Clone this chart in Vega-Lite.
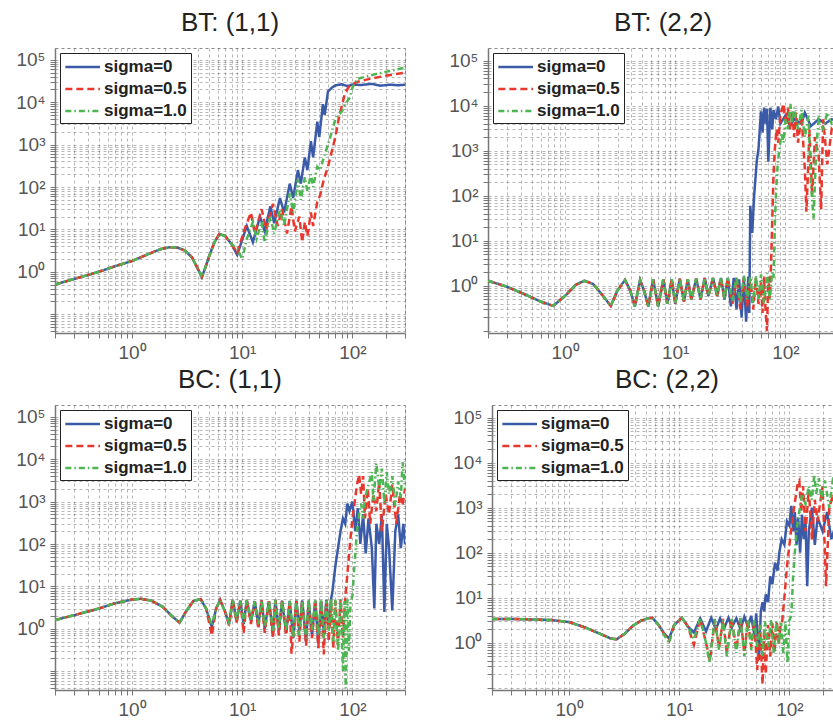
{
"$schema":"https://vega.github.io/schema/vega-lite/v6.json",
"padding":{"left":15,"top":9,"right":0,"bottom":0},
"datasets":{
"bt11":[
{"sigma":"sigma=0","x":0.2,"y":0.5},{"sigma":"sigma=0","x":0.3,"y":0.68},{"sigma":"sigma=0","x":0.5,"y":1.0},{"sigma":"sigma=0","x":0.7,"y":1.35},{"sigma":"sigma=0","x":1,"y":1.8},{"sigma":"sigma=0","x":1.4,"y":2.6},{"sigma":"sigma=0","x":1.8,"y":3.4},{"sigma":"sigma=0","x":2.2,"y":3.8},{"sigma":"sigma=0","x":2.6,"y":3.7},{"sigma":"sigma=0","x":3,"y":3.2},{"sigma":"sigma=0","x":3.5,"y":2.2},{"sigma":"sigma=0","x":4,"y":1.1},{"sigma":"sigma=0","x":4.3,"y":0.75},{"sigma":"sigma=0","x":4.6,"y":1.2},{"sigma":"sigma=0","x":5,"y":2.3},{"sigma":"sigma=0","x":5.6,"y":5},{"sigma":"sigma=0","x":6.2,"y":7.8},{"sigma":"sigma=0","x":7,"y":7},{"sigma":"sigma=0","x":8,"y":4.5},
{"sigma":"sigma=0","x":9,"y":2.5},{"sigma":"sigma=0","x":11,"y":12},{"sigma":"sigma=0","x":12.5,"y":5},{"sigma":"sigma=0","x":14.5,"y":20},{"sigma":"sigma=0","x":16,"y":9},{"sigma":"sigma=0","x":18,"y":35},{"sigma":"sigma=0","x":19.5,"y":14},{"sigma":"sigma=0","x":22,"y":55},{"sigma":"sigma=0","x":24,"y":25},{"sigma":"sigma=0","x":27,"y":120},{"sigma":"sigma=0","x":29,"y":55},{"sigma":"sigma=0","x":32,"y":250},{"sigma":"sigma=0","x":34,"y":120},{"sigma":"sigma=0","x":37,"y":500},{"sigma":"sigma=0","x":39,"y":250},{"sigma":"sigma=0","x":42,"y":1200},{"sigma":"sigma=0","x":44,"y":500},{"sigma":"sigma=0","x":48,"y":3500},{"sigma":"sigma=0","x":50,"y":1500},{"sigma":"sigma=0","x":54,"y":9000},{"sigma":"sigma=0","x":56,"y":5000},{"sigma":"sigma=0","x":60,"y":18000},{"sigma":"sigma=0","x":65,"y":22000},{"sigma":"sigma=0","x":70,"y":25000},{"sigma":"sigma=0","x":80,"y":26500},{"sigma":"sigma=0","x":90,"y":24000},{"sigma":"sigma=0","x":100,"y":26000},{"sigma":"sigma=0","x":120,"y":25500},{"sigma":"sigma=0","x":150,"y":27000},{"sigma":"sigma=0","x":180,"y":24500},{"sigma":"sigma=0","x":220,"y":26000},{"sigma":"sigma=0","x":260,"y":25000},{"sigma":"sigma=0","x":300,"y":26000},
{"sigma":"sigma=0.5","x":0.2,"y":0.5},{"sigma":"sigma=0.5","x":0.3,"y":0.68},{"sigma":"sigma=0.5","x":0.5,"y":1.0},{"sigma":"sigma=0.5","x":0.7,"y":1.35},{"sigma":"sigma=0.5","x":1,"y":1.8},{"sigma":"sigma=0.5","x":1.4,"y":2.6},{"sigma":"sigma=0.5","x":1.8,"y":3.4},{"sigma":"sigma=0.5","x":2.2,"y":3.8},{"sigma":"sigma=0.5","x":2.6,"y":3.7},{"sigma":"sigma=0.5","x":3,"y":3.2},{"sigma":"sigma=0.5","x":3.5,"y":2.2},{"sigma":"sigma=0.5","x":4,"y":1.1},{"sigma":"sigma=0.5","x":4.3,"y":0.75},{"sigma":"sigma=0.5","x":4.6,"y":1.2},{"sigma":"sigma=0.5","x":5,"y":2.3},{"sigma":"sigma=0.5","x":5.6,"y":5},{"sigma":"sigma=0.5","x":6.2,"y":7.8},{"sigma":"sigma=0.5","x":7,"y":7},{"sigma":"sigma=0.5","x":8,"y":4.5},
{"sigma":"sigma=0.5","x":9,"y":2.8},{"sigma":"sigma=0.5","x":10.5,"y":10},{"sigma":"sigma=0.5","x":12,"y":25},{"sigma":"sigma=0.5","x":13,"y":8},{"sigma":"sigma=0.5","x":15,"y":30},{"sigma":"sigma=0.5","x":16.5,"y":10},{"sigma":"sigma=0.5","x":19,"y":40},{"sigma":"sigma=0.5","x":21,"y":12},{"sigma":"sigma=0.5","x":23,"y":30},{"sigma":"sigma=0.5","x":25.5,"y":8},{"sigma":"sigma=0.5","x":28,"y":35},{"sigma":"sigma=0.5","x":30,"y":9},{"sigma":"sigma=0.5","x":33,"y":20},{"sigma":"sigma=0.5","x":35,"y":5},{"sigma":"sigma=0.5","x":37,"y":15},{"sigma":"sigma=0.5","x":39,"y":7},{"sigma":"sigma=0.5","x":42,"y":25},{"sigma":"sigma=0.5","x":44,"y":12},{"sigma":"sigma=0.5","x":48,"y":45},{"sigma":"sigma=0.5","x":51,"y":65},{"sigma":"sigma=0.5","x":55,"y":150},{"sigma":"sigma=0.5","x":60,"y":300},{"sigma":"sigma=0.5","x":65,"y":700},{"sigma":"sigma=0.5","x":70,"y":1500},{"sigma":"sigma=0.5","x":75,"y":4000},{"sigma":"sigma=0.5","x":80,"y":8000},{"sigma":"sigma=0.5","x":86,"y":17000},{"sigma":"sigma=0.5","x":95,"y":25000},{"sigma":"sigma=0.5","x":110,"y":30000},{"sigma":"sigma=0.5","x":140,"y":35000},{"sigma":"sigma=0.5","x":200,"y":42000},{"sigma":"sigma=0.5","x":300,"y":50000},
{"sigma":"sigma=1.0","x":0.2,"y":0.5},{"sigma":"sigma=1.0","x":0.3,"y":0.68},{"sigma":"sigma=1.0","x":0.5,"y":1.0},{"sigma":"sigma=1.0","x":0.7,"y":1.35},{"sigma":"sigma=1.0","x":1,"y":1.8},{"sigma":"sigma=1.0","x":1.4,"y":2.6},{"sigma":"sigma=1.0","x":1.8,"y":3.4},{"sigma":"sigma=1.0","x":2.2,"y":3.8},{"sigma":"sigma=1.0","x":2.6,"y":3.7},{"sigma":"sigma=1.0","x":3,"y":3.2},{"sigma":"sigma=1.0","x":3.5,"y":2.2},{"sigma":"sigma=1.0","x":4,"y":1.1},{"sigma":"sigma=1.0","x":4.3,"y":0.75},{"sigma":"sigma=1.0","x":4.6,"y":1.2},{"sigma":"sigma=1.0","x":5,"y":2.3},{"sigma":"sigma=1.0","x":5.6,"y":5},{"sigma":"sigma=1.0","x":6.2,"y":7.8},{"sigma":"sigma=1.0","x":7,"y":7},{"sigma":"sigma=1.0","x":8,"y":4.5},
{"sigma":"sigma=1.0","x":9,"y":3.5},{"sigma":"sigma=1.0","x":10,"y":2.0},{"sigma":"sigma=1.0","x":11,"y":6},{"sigma":"sigma=1.0","x":12.5,"y":15},{"sigma":"sigma=1.0","x":13.5,"y":6},{"sigma":"sigma=1.0","x":15,"y":15},{"sigma":"sigma=1.0","x":16,"y":5},{"sigma":"sigma=1.0","x":18,"y":20},{"sigma":"sigma=1.0","x":19.5,"y":8},{"sigma":"sigma=1.0","x":22,"y":30},{"sigma":"sigma=1.0","x":24,"y":12},{"sigma":"sigma=1.0","x":27,"y":70},{"sigma":"sigma=1.0","x":29,"y":25},{"sigma":"sigma=1.0","x":32,"y":150},{"sigma":"sigma=1.0","x":34,"y":50},{"sigma":"sigma=1.0","x":37,"y":170},{"sigma":"sigma=1.0","x":39,"y":80},{"sigma":"sigma=1.0","x":42,"y":200},{"sigma":"sigma=1.0","x":44,"y":100},{"sigma":"sigma=1.0","x":48,"y":300},{"sigma":"sigma=1.0","x":51,"y":250},{"sigma":"sigma=1.0","x":55,"y":500},{"sigma":"sigma=1.0","x":60,"y":1000},{"sigma":"sigma=1.0","x":65,"y":2000},{"sigma":"sigma=1.0","x":70,"y":4000},{"sigma":"sigma=1.0","x":75,"y":5000},{"sigma":"sigma=1.0","x":80,"y":6000},{"sigma":"sigma=1.0","x":86,"y":9000},{"sigma":"sigma=1.0","x":95,"y":13000},{"sigma":"sigma=1.0","x":100,"y":22000},{"sigma":"sigma=1.0","x":110,"y":35000},{"sigma":"sigma=1.0","x":140,"y":42000},{"sigma":"sigma=1.0","x":200,"y":52000},{"sigma":"sigma=1.0","x":300,"y":65000}
],
"bt22":[
{"sigma":"sigma=0","x":0.2,"y":1.3},{"sigma":"sigma=0","x":0.3,"y":0.95},{"sigma":"sigma=0","x":0.45,"y":0.62},{"sigma":"sigma=0","x":0.6,"y":0.45},{"sigma":"sigma=0","x":0.78,"y":0.36},{"sigma":"sigma=0","x":1,"y":0.6},{"sigma":"sigma=0","x":1.25,"y":1.05},{"sigma":"sigma=0","x":1.5,"y":1.3},{"sigma":"sigma=0","x":1.8,"y":1.1},{"sigma":"sigma=0","x":2.1,"y":0.7},{"sigma":"sigma=0","x":2.6,"y":0.36},{"sigma":"sigma=0","x":3,"y":0.8},{"sigma":"sigma=0","x":3.5,"y":1.35},{"sigma":"sigma=0","x":3.9,"y":0.8},{"sigma":"sigma=0","x":4.3,"y":0.35},{"sigma":"sigma=0","x":4.8,"y":1.35},{"sigma":"sigma=0","x":5.2,"y":0.8},{"sigma":"sigma=0","x":5.7,"y":0.35},{"sigma":"sigma=0","x":6.3,"y":1.4},{"sigma":"sigma=0","x":7,"y":0.35},{"sigma":"sigma=0","x":7.8,"y":1.4},{"sigma":"sigma=0","x":8.5,"y":0.4},{"sigma":"sigma=0","x":9.3,"y":1.4},{"sigma":"sigma=0","x":10,"y":0.4},{"sigma":"sigma=0","x":11,"y":1.45},{"sigma":"sigma=0","x":12,"y":0.45},{"sigma":"sigma=0","x":13,"y":1.4},{"sigma":"sigma=0","x":14,"y":0.5},{"sigma":"sigma=0","x":15.5,"y":1.45},{"sigma":"sigma=0","x":17,"y":0.5},{"sigma":"sigma=0","x":18.5,"y":1.5},{"sigma":"sigma=0","x":20,"y":0.6},{"sigma":"sigma=0","x":22,"y":1.5},{"sigma":"sigma=0","x":24,"y":0.6},{"sigma":"sigma=0","x":26,"y":1.5},{"sigma":"sigma=0","x":28,"y":0.5},
{"sigma":"sigma=0","x":30,"y":1.5},{"sigma":"sigma=0","x":32,"y":0.35},{"sigma":"sigma=0","x":34,"y":1.5},{"sigma":"sigma=0","x":36,"y":0.3},{"sigma":"sigma=0","x":38,"y":1.4},{"sigma":"sigma=0","x":40,"y":0.2},{"sigma":"sigma=0","x":42,"y":1.5},{"sigma":"sigma=0","x":44,"y":0.16},{"sigma":"sigma=0","x":46,"y":1.6},{"sigma":"sigma=0","x":47,"y":0.25},{"sigma":"sigma=0","x":48,"y":60},{"sigma":"sigma=0","x":50,"y":15},{"sigma":"sigma=0","x":52,"y":100},{"sigma":"sigma=0","x":55,"y":600},{"sigma":"sigma=0","x":57,"y":1100},{"sigma":"sigma=0","x":60,"y":7500},{"sigma":"sigma=0","x":62,"y":2500},{"sigma":"sigma=0","x":64,"y":9000},{"sigma":"sigma=0","x":66,"y":4000},{"sigma":"sigma=0","x":68,"y":8500},{"sigma":"sigma=0","x":70,"y":570},{"sigma":"sigma=0","x":73,"y":9000},{"sigma":"sigma=0","x":76,"y":3000},{"sigma":"sigma=0","x":78,"y":8000},{"sigma":"sigma=0","x":82,"y":5000},{"sigma":"sigma=0","x":86,"y":9500},{"sigma":"sigma=0","x":90,"y":4000},{"sigma":"sigma=0","x":100,"y":6000},{"sigma":"sigma=0","x":110,"y":3500},{"sigma":"sigma=0","x":120,"y":5000},{"sigma":"sigma=0","x":140,"y":4000},{"sigma":"sigma=0","x":150,"y":7000},{"sigma":"sigma=0","x":170,"y":3500},{"sigma":"sigma=0","x":200,"y":5000},{"sigma":"sigma=0","x":230,"y":4000},{"sigma":"sigma=0","x":263,"y":5000},{"sigma":"sigma=0","x":300,"y":4500},
{"sigma":"sigma=0.5","x":0.2,"y":1.3},{"sigma":"sigma=0.5","x":0.3,"y":0.95},{"sigma":"sigma=0.5","x":0.45,"y":0.62},{"sigma":"sigma=0.5","x":0.6,"y":0.45},{"sigma":"sigma=0.5","x":0.78,"y":0.36},{"sigma":"sigma=0.5","x":1,"y":0.6},{"sigma":"sigma=0.5","x":1.25,"y":1.05},{"sigma":"sigma=0.5","x":1.5,"y":1.3},{"sigma":"sigma=0.5","x":1.8,"y":1.1},{"sigma":"sigma=0.5","x":2.1,"y":0.7},{"sigma":"sigma=0.5","x":2.6,"y":0.36},{"sigma":"sigma=0.5","x":3,"y":0.8},{"sigma":"sigma=0.5","x":3.5,"y":1.35},{"sigma":"sigma=0.5","x":3.9,"y":0.8},{"sigma":"sigma=0.5","x":4.3,"y":0.35},{"sigma":"sigma=0.5","x":4.8,"y":1.35},{"sigma":"sigma=0.5","x":5.2,"y":0.8},{"sigma":"sigma=0.5","x":5.7,"y":0.35},{"sigma":"sigma=0.5","x":6.3,"y":1.4},{"sigma":"sigma=0.5","x":7,"y":0.35},{"sigma":"sigma=0.5","x":7.8,"y":1.4},{"sigma":"sigma=0.5","x":8.5,"y":0.4},{"sigma":"sigma=0.5","x":9.3,"y":1.4},{"sigma":"sigma=0.5","x":10,"y":0.4},{"sigma":"sigma=0.5","x":11,"y":1.45},{"sigma":"sigma=0.5","x":12,"y":0.45},{"sigma":"sigma=0.5","x":13,"y":1.4},{"sigma":"sigma=0.5","x":14,"y":0.5},{"sigma":"sigma=0.5","x":15.5,"y":1.45},{"sigma":"sigma=0.5","x":17,"y":0.5},{"sigma":"sigma=0.5","x":18.5,"y":1.5},{"sigma":"sigma=0.5","x":20,"y":0.6},{"sigma":"sigma=0.5","x":22,"y":1.5},{"sigma":"sigma=0.5","x":24,"y":0.6},{"sigma":"sigma=0.5","x":26,"y":1.5},{"sigma":"sigma=0.5","x":28,"y":0.5},
{"sigma":"sigma=0.5","x":30,"y":1.5},{"sigma":"sigma=0.5","x":33,"y":0.4},{"sigma":"sigma=0.5","x":36,"y":1.5},{"sigma":"sigma=0.5","x":39,"y":0.3},{"sigma":"sigma=0.5","x":42,"y":1.5},{"sigma":"sigma=0.5","x":45,"y":0.35},{"sigma":"sigma=0.5","x":48,"y":1.4},{"sigma":"sigma=0.5","x":51,"y":0.3},{"sigma":"sigma=0.5","x":54,"y":1.5},{"sigma":"sigma=0.5","x":57,"y":0.4},{"sigma":"sigma=0.5","x":60,"y":1.2},{"sigma":"sigma=0.5","x":62,"y":0.25},{"sigma":"sigma=0.5","x":64,"y":1.6},{"sigma":"sigma=0.5","x":66,"y":0.3},{"sigma":"sigma=0.5","x":68,"y":0.1},{"sigma":"sigma=0.5","x":70,"y":1.6},{"sigma":"sigma=0.5","x":72,"y":0.5},{"sigma":"sigma=0.5","x":74,"y":3},{"sigma":"sigma=0.5","x":76,"y":30},{"sigma":"sigma=0.5","x":78,"y":300},{"sigma":"sigma=0.5","x":80,"y":1000},{"sigma":"sigma=0.5","x":83,"y":3000},{"sigma":"sigma=0.5","x":86,"y":1500},{"sigma":"sigma=0.5","x":90,"y":6000},{"sigma":"sigma=0.5","x":96,"y":11000},{"sigma":"sigma=0.5","x":100,"y":4000},{"sigma":"sigma=0.5","x":105,"y":9000},{"sigma":"sigma=0.5","x":110,"y":3000},{"sigma":"sigma=0.5","x":115,"y":8000},{"sigma":"sigma=0.5","x":120,"y":2000},{"sigma":"sigma=0.5","x":125,"y":7000},{"sigma":"sigma=0.5","x":130,"y":1500},{"sigma":"sigma=0.5","x":140,"y":6000},{"sigma":"sigma=0.5","x":150,"y":400},{"sigma":"sigma=0.5","x":155,"y":44},{"sigma":"sigma=0.5","x":160,"y":300},{"sigma":"sigma=0.5","x":165,"y":3000},{"sigma":"sigma=0.5","x":175,"y":100},{"sigma":"sigma=0.5","x":185,"y":2000},{"sigma":"sigma=0.5","x":200,"y":800},{"sigma":"sigma=0.5","x":211,"y":50},{"sigma":"sigma=0.5","x":220,"y":5000},{"sigma":"sigma=0.5","x":240,"y":500},{"sigma":"sigma=0.5","x":263,"y":3000},{"sigma":"sigma=0.5","x":300,"y":2000},
{"sigma":"sigma=1.0","x":0.2,"y":1.3},{"sigma":"sigma=1.0","x":0.3,"y":0.95},{"sigma":"sigma=1.0","x":0.45,"y":0.62},{"sigma":"sigma=1.0","x":0.6,"y":0.45},{"sigma":"sigma=1.0","x":0.78,"y":0.36},{"sigma":"sigma=1.0","x":1,"y":0.6},{"sigma":"sigma=1.0","x":1.25,"y":1.05},{"sigma":"sigma=1.0","x":1.5,"y":1.3},{"sigma":"sigma=1.0","x":1.8,"y":1.1},{"sigma":"sigma=1.0","x":2.1,"y":0.7},{"sigma":"sigma=1.0","x":2.6,"y":0.36},{"sigma":"sigma=1.0","x":3,"y":0.8},{"sigma":"sigma=1.0","x":3.5,"y":1.35},{"sigma":"sigma=1.0","x":3.9,"y":0.8},{"sigma":"sigma=1.0","x":4.3,"y":0.35},{"sigma":"sigma=1.0","x":4.8,"y":1.35},{"sigma":"sigma=1.0","x":5.2,"y":0.8},{"sigma":"sigma=1.0","x":5.7,"y":0.35},{"sigma":"sigma=1.0","x":6.3,"y":1.4},{"sigma":"sigma=1.0","x":7,"y":0.35},{"sigma":"sigma=1.0","x":7.8,"y":1.4},{"sigma":"sigma=1.0","x":8.5,"y":0.4},{"sigma":"sigma=1.0","x":9.3,"y":1.4},{"sigma":"sigma=1.0","x":10,"y":0.4},{"sigma":"sigma=1.0","x":11,"y":1.45},{"sigma":"sigma=1.0","x":12,"y":0.45},{"sigma":"sigma=1.0","x":13,"y":1.4},{"sigma":"sigma=1.0","x":14,"y":0.5},{"sigma":"sigma=1.0","x":15.5,"y":1.45},{"sigma":"sigma=1.0","x":17,"y":0.5},{"sigma":"sigma=1.0","x":18.5,"y":1.5},{"sigma":"sigma=1.0","x":20,"y":0.6},{"sigma":"sigma=1.0","x":22,"y":1.5},{"sigma":"sigma=1.0","x":24,"y":0.6},{"sigma":"sigma=1.0","x":26,"y":1.5},{"sigma":"sigma=1.0","x":28,"y":0.5},
{"sigma":"sigma=1.0","x":30,"y":1.5},{"sigma":"sigma=1.0","x":33,"y":0.45},{"sigma":"sigma=1.0","x":36,"y":1.6},{"sigma":"sigma=1.0","x":39,"y":0.4},{"sigma":"sigma=1.0","x":42,"y":1.7},{"sigma":"sigma=1.0","x":45,"y":0.5},{"sigma":"sigma=1.0","x":48,"y":1.6},{"sigma":"sigma=1.0","x":51,"y":0.4},{"sigma":"sigma=1.0","x":54,"y":1.7},{"sigma":"sigma=1.0","x":57,"y":0.5},{"sigma":"sigma=1.0","x":60,"y":1.8},{"sigma":"sigma=1.0","x":64,"y":0.4},{"sigma":"sigma=1.0","x":68,"y":1.9},{"sigma":"sigma=1.0","x":72,"y":0.5},{"sigma":"sigma=1.0","x":76,"y":2.0},{"sigma":"sigma=1.0","x":78,"y":1.5},{"sigma":"sigma=1.0","x":80,"y":20},{"sigma":"sigma=1.0","x":82,"y":100},{"sigma":"sigma=1.0","x":85,"y":500},{"sigma":"sigma=1.0","x":88,"y":1000},{"sigma":"sigma=1.0","x":92,"y":2500},{"sigma":"sigma=1.0","x":96,"y":1500},{"sigma":"sigma=1.0","x":100,"y":5000},{"sigma":"sigma=1.0","x":105,"y":3000},{"sigma":"sigma=1.0","x":111,"y":11000},{"sigma":"sigma=1.0","x":115,"y":4000},{"sigma":"sigma=1.0","x":120,"y":9000},{"sigma":"sigma=1.0","x":130,"y":3000},{"sigma":"sigma=1.0","x":140,"y":8000},{"sigma":"sigma=1.0","x":150,"y":2000},{"sigma":"sigma=1.0","x":162,"y":6000},{"sigma":"sigma=1.0","x":170,"y":200},{"sigma":"sigma=1.0","x":180,"y":31},{"sigma":"sigma=1.0","x":190,"y":1000},{"sigma":"sigma=1.0","x":200,"y":5000},{"sigma":"sigma=1.0","x":220,"y":3000},{"sigma":"sigma=1.0","x":240,"y":7000},{"sigma":"sigma=1.0","x":263,"y":4000},{"sigma":"sigma=1.0","x":300,"y":5000}
],
"bc11":[
{"sigma":"sigma=0","x":0.2,"y":1.6},{"sigma":"sigma=0","x":0.3,"y":2.1},{"sigma":"sigma=0","x":0.5,"y":3.0},{"sigma":"sigma=0","x":0.7,"y":4.0},{"sigma":"sigma=0","x":1,"y":4.9},{"sigma":"sigma=0","x":1.2,"y":5.1},{"sigma":"sigma=0","x":1.5,"y":4.6},{"sigma":"sigma=0","x":1.9,"y":3.3},{"sigma":"sigma=0","x":2.3,"y":2.0},{"sigma":"sigma=0","x":2.7,"y":1.4},{"sigma":"sigma=0","x":3.1,"y":2.6},{"sigma":"sigma=0","x":3.6,"y":4.5},{"sigma":"sigma=0","x":4.2,"y":5.0},{"sigma":"sigma=0","x":4.7,"y":3.0},{"sigma":"sigma=0","x":5.3,"y":1.1},{"sigma":"sigma=0","x":5.8,"y":3.0},{"sigma":"sigma=0","x":6.3,"y":4.8},{"sigma":"sigma=0","x":7,"y":2.5},{"sigma":"sigma=0","x":7.6,"y":1.3},{"sigma":"sigma=0","x":8.2,"y":4.8},{"sigma":"sigma=0","x":8.9,"y":1.5},{"sigma":"sigma=0","x":9.6,"y":4.6},{"sigma":"sigma=0","x":10.3,"y":1.3},{"sigma":"sigma=0","x":11,"y":4.8},{"sigma":"sigma=0","x":12,"y":1.5},{"sigma":"sigma=0","x":13,"y":4.5},{"sigma":"sigma=0","x":14,"y":1.2},{"sigma":"sigma=0","x":15,"y":4.7},{"sigma":"sigma=0","x":16,"y":1.0},{"sigma":"sigma=0","x":17.5,"y":4.5},{"sigma":"sigma=0","x":19,"y":0.8},{"sigma":"sigma=0","x":20,"y":4.8},{"sigma":"sigma=0","x":21.5,"y":0.9},{"sigma":"sigma=0","x":23,"y":4.6},
{"sigma":"sigma=0","x":25,"y":0.8},{"sigma":"sigma=0","x":27,"y":4.5},{"sigma":"sigma=0","x":29,"y":0.6},{"sigma":"sigma=0","x":31,"y":4.6},{"sigma":"sigma=0","x":33,"y":0.9},{"sigma":"sigma=0","x":35,"y":4.7},{"sigma":"sigma=0","x":38,"y":0.5},{"sigma":"sigma=0","x":40,"y":4.5},{"sigma":"sigma=0","x":43,"y":0.7},{"sigma":"sigma=0","x":46,"y":4.6},{"sigma":"sigma=0","x":49,"y":0.45},{"sigma":"sigma=0","x":52,"y":4.5},{"sigma":"sigma=0","x":55,"y":0.8},{"sigma":"sigma=0","x":58,"y":4.8},{"sigma":"sigma=0","x":61,"y":1.0},{"sigma":"sigma=0","x":64,"y":5},{"sigma":"sigma=0","x":66,"y":8},{"sigma":"sigma=0","x":70,"y":30},{"sigma":"sigma=0","x":74,"y":80},{"sigma":"sigma=0","x":78,"y":200},{"sigma":"sigma=0","x":82,"y":400},{"sigma":"sigma=0","x":86,"y":300},{"sigma":"sigma=0","x":90,"y":900},{"sigma":"sigma=0","x":94,"y":600},{"sigma":"sigma=0","x":100,"y":1000},{"sigma":"sigma=0","x":106,"y":200},{"sigma":"sigma=0","x":112,"y":700},{"sigma":"sigma=0","x":118,"y":100},{"sigma":"sigma=0","x":125,"y":500},{"sigma":"sigma=0","x":132,"y":60},{"sigma":"sigma=0","x":140,"y":400},{"sigma":"sigma=0","x":150,"y":80},{"sigma":"sigma=0","x":158,"y":3},{"sigma":"sigma=0","x":165,"y":300},{"sigma":"sigma=0","x":175,"y":100},{"sigma":"sigma=0","x":185,"y":500},{"sigma":"sigma=0","x":195,"y":2.5},{"sigma":"sigma=0","x":205,"y":300},{"sigma":"sigma=0","x":215,"y":80},{"sigma":"sigma=0","x":230,"y":2.7},{"sigma":"sigma=0","x":245,"y":200},{"sigma":"sigma=0","x":260,"y":500},{"sigma":"sigma=0","x":275,"y":80},{"sigma":"sigma=0","x":290,"y":300},{"sigma":"sigma=0","x":300,"y":100},
{"sigma":"sigma=0.5","x":0.2,"y":1.6},{"sigma":"sigma=0.5","x":0.3,"y":2.1},{"sigma":"sigma=0.5","x":0.5,"y":3.0},{"sigma":"sigma=0.5","x":0.7,"y":4.0},{"sigma":"sigma=0.5","x":1,"y":4.9},{"sigma":"sigma=0.5","x":1.2,"y":5.1},{"sigma":"sigma=0.5","x":1.5,"y":4.6},{"sigma":"sigma=0.5","x":1.9,"y":3.3},{"sigma":"sigma=0.5","x":2.3,"y":2.0},{"sigma":"sigma=0.5","x":2.7,"y":1.4},{"sigma":"sigma=0.5","x":3.1,"y":2.6},{"sigma":"sigma=0.5","x":3.6,"y":4.5},{"sigma":"sigma=0.5","x":4.2,"y":5.0},{"sigma":"sigma=0.5","x":4.7,"y":3.0},{"sigma":"sigma=0.5","x":5.3,"y":0.7},{"sigma":"sigma=0.5","x":5.8,"y":3.0},{"sigma":"sigma=0.5","x":6.3,"y":4.8},{"sigma":"sigma=0.5","x":7,"y":2.5},{"sigma":"sigma=0.5","x":7.6,"y":1.2},{"sigma":"sigma=0.5","x":8.2,"y":4.8},{"sigma":"sigma=0.5","x":8.9,"y":1.4},{"sigma":"sigma=0.5","x":9.6,"y":4.6},{"sigma":"sigma=0.5","x":10.3,"y":0.8},{"sigma":"sigma=0.5","x":11,"y":4.8},{"sigma":"sigma=0.5","x":12,"y":1.3},{"sigma":"sigma=0.5","x":13,"y":4.5},{"sigma":"sigma=0.5","x":14,"y":1.0},{"sigma":"sigma=0.5","x":15,"y":4.7},{"sigma":"sigma=0.5","x":16,"y":0.8},{"sigma":"sigma=0.5","x":17.5,"y":4.5},{"sigma":"sigma=0.5","x":19,"y":0.6},{"sigma":"sigma=0.5","x":20,"y":4.8},{"sigma":"sigma=0.5","x":21.5,"y":0.7},{"sigma":"sigma=0.5","x":23,"y":4.6},
{"sigma":"sigma=0.5","x":25,"y":0.7},{"sigma":"sigma=0.5","x":27,"y":4.3},{"sigma":"sigma=0.5","x":28,"y":0.26},{"sigma":"sigma=0.5","x":31,"y":4.5},{"sigma":"sigma=0.5","x":33,"y":0.5},{"sigma":"sigma=0.5","x":35,"y":4.8},{"sigma":"sigma=0.5","x":38,"y":0.4},{"sigma":"sigma=0.5","x":40,"y":4.2},{"sigma":"sigma=0.5","x":43,"y":0.6},{"sigma":"sigma=0.5","x":46,"y":4.8},{"sigma":"sigma=0.5","x":49,"y":0.35},{"sigma":"sigma=0.5","x":52,"y":4.4},{"sigma":"sigma=0.5","x":55,"y":0.25},{"sigma":"sigma=0.5","x":58,"y":4.6},{"sigma":"sigma=0.5","x":61,"y":0.5},{"sigma":"sigma=0.5","x":64,"y":4.8},{"sigma":"sigma=0.5","x":67,"y":0.35},{"sigma":"sigma=0.5","x":70,"y":4.5},{"sigma":"sigma=0.5","x":74,"y":0.4},{"sigma":"sigma=0.5","x":78,"y":4.8},{"sigma":"sigma=0.5","x":82,"y":0.6},{"sigma":"sigma=0.5","x":86,"y":5},{"sigma":"sigma=0.5","x":90,"y":20},{"sigma":"sigma=0.5","x":95,"y":100},{"sigma":"sigma=0.5","x":100,"y":400},{"sigma":"sigma=0.5","x":105,"y":1000},{"sigma":"sigma=0.5","x":110,"y":2500},{"sigma":"sigma=0.5","x":115,"y":4300},{"sigma":"sigma=0.5","x":120,"y":1500},{"sigma":"sigma=0.5","x":125,"y":4000},{"sigma":"sigma=0.5","x":130,"y":400},{"sigma":"sigma=0.5","x":138,"y":2000},{"sigma":"sigma=0.5","x":145,"y":300},{"sigma":"sigma=0.5","x":155,"y":1500},{"sigma":"sigma=0.5","x":165,"y":600},{"sigma":"sigma=0.5","x":175,"y":3000},{"sigma":"sigma=0.5","x":185,"y":200},{"sigma":"sigma=0.5","x":200,"y":1500},{"sigma":"sigma=0.5","x":215,"y":500},{"sigma":"sigma=0.5","x":230,"y":2500},{"sigma":"sigma=0.5","x":250,"y":300},{"sigma":"sigma=0.5","x":270,"y":1500},{"sigma":"sigma=0.5","x":285,"y":800},{"sigma":"sigma=0.5","x":300,"y":2000},
{"sigma":"sigma=1.0","x":0.2,"y":1.6},{"sigma":"sigma=1.0","x":0.3,"y":2.1},{"sigma":"sigma=1.0","x":0.5,"y":3.0},{"sigma":"sigma=1.0","x":0.7,"y":4.0},{"sigma":"sigma=1.0","x":1,"y":4.9},{"sigma":"sigma=1.0","x":1.2,"y":5.1},{"sigma":"sigma=1.0","x":1.5,"y":4.6},{"sigma":"sigma=1.0","x":1.9,"y":3.3},{"sigma":"sigma=1.0","x":2.3,"y":2.0},{"sigma":"sigma=1.0","x":2.7,"y":1.4},{"sigma":"sigma=1.0","x":3.1,"y":2.6},{"sigma":"sigma=1.0","x":3.6,"y":4.5},{"sigma":"sigma=1.0","x":4.2,"y":5.0},{"sigma":"sigma=1.0","x":4.7,"y":3.0},{"sigma":"sigma=1.0","x":5.3,"y":1.2},{"sigma":"sigma=1.0","x":5.8,"y":3.0},{"sigma":"sigma=1.0","x":6.3,"y":4.8},{"sigma":"sigma=1.0","x":7,"y":2.5},{"sigma":"sigma=1.0","x":7.6,"y":1.4},{"sigma":"sigma=1.0","x":8.2,"y":4.8},{"sigma":"sigma=1.0","x":8.9,"y":1.6},{"sigma":"sigma=1.0","x":9.6,"y":4.6},{"sigma":"sigma=1.0","x":10.3,"y":1.4},{"sigma":"sigma=1.0","x":11,"y":4.8},{"sigma":"sigma=1.0","x":12,"y":1.6},{"sigma":"sigma=1.0","x":13,"y":4.5},{"sigma":"sigma=1.0","x":14,"y":1.3},{"sigma":"sigma=1.0","x":15,"y":4.7},{"sigma":"sigma=1.0","x":16,"y":1.1},{"sigma":"sigma=1.0","x":17.5,"y":4.5},{"sigma":"sigma=1.0","x":19,"y":0.9},{"sigma":"sigma=1.0","x":20,"y":4.8},{"sigma":"sigma=1.0","x":21.5,"y":1.0},{"sigma":"sigma=1.0","x":23,"y":4.6},
{"sigma":"sigma=1.0","x":25,"y":0.9},{"sigma":"sigma=1.0","x":27,"y":4.6},{"sigma":"sigma=1.0","x":29,"y":0.6},{"sigma":"sigma=1.0","x":31,"y":4.8},{"sigma":"sigma=1.0","x":33,"y":0.7},{"sigma":"sigma=1.0","x":35,"y":4.6},{"sigma":"sigma=1.0","x":38,"y":0.6},{"sigma":"sigma=1.0","x":40,"y":5},{"sigma":"sigma=1.0","x":43,"y":0.9},{"sigma":"sigma=1.0","x":46,"y":4.7},{"sigma":"sigma=1.0","x":49,"y":0.7},{"sigma":"sigma=1.0","x":52,"y":5},{"sigma":"sigma=1.0","x":55,"y":0.6},{"sigma":"sigma=1.0","x":58,"y":4.6},{"sigma":"sigma=1.0","x":61,"y":0.9},{"sigma":"sigma=1.0","x":64,"y":5.2},{"sigma":"sigma=1.0","x":67,"y":0.5},{"sigma":"sigma=1.0","x":70,"y":4.8},{"sigma":"sigma=1.0","x":74,"y":0.3},{"sigma":"sigma=1.0","x":78,"y":5},{"sigma":"sigma=1.0","x":82,"y":0.1},{"sigma":"sigma=1.0","x":85,"y":4.5},{"sigma":"sigma=1.0","x":87,"y":0.04},{"sigma":"sigma=1.0","x":90,"y":5},{"sigma":"sigma=1.0","x":93,"y":0.3},{"sigma":"sigma=1.0","x":96,"y":4},{"sigma":"sigma=1.0","x":100,"y":6},{"sigma":"sigma=1.0","x":105,"y":40},{"sigma":"sigma=1.0","x":110,"y":200},{"sigma":"sigma=1.0","x":115,"y":500},{"sigma":"sigma=1.0","x":120,"y":900},{"sigma":"sigma=1.0","x":125,"y":400},{"sigma":"sigma=1.0","x":130,"y":1200},{"sigma":"sigma=1.0","x":140,"y":2500},{"sigma":"sigma=1.0","x":150,"y":5000},{"sigma":"sigma=1.0","x":155,"y":1000},{"sigma":"sigma=1.0","x":165,"y":8000},{"sigma":"sigma=1.0","x":175,"y":2000},{"sigma":"sigma=1.0","x":185,"y":6000},{"sigma":"sigma=1.0","x":195,"y":900},{"sigma":"sigma=1.0","x":205,"y":5000},{"sigma":"sigma=1.0","x":215,"y":1500},{"sigma":"sigma=1.0","x":230,"y":4000},{"sigma":"sigma=1.0","x":245,"y":800},{"sigma":"sigma=1.0","x":260,"y":3000},{"sigma":"sigma=1.0","x":275,"y":1200},{"sigma":"sigma=1.0","x":285,"y":8500},{"sigma":"sigma=1.0","x":300,"y":2000}
],
"bc22":[
{"sigma":"sigma=0","x":0.2,"y":3.4},{"sigma":"sigma=0","x":0.3,"y":3.4},{"sigma":"sigma=0","x":0.5,"y":3.3},{"sigma":"sigma=0","x":0.7,"y":3.2},{"sigma":"sigma=0","x":1,"y":2.9},{"sigma":"sigma=0","x":1.4,"y":2.2},{"sigma":"sigma=0","x":1.9,"y":1.6},{"sigma":"sigma=0","x":2.4,"y":1.25},{"sigma":"sigma=0","x":2.7,"y":1.2},{"sigma":"sigma=0","x":3.2,"y":1.6},{"sigma":"sigma=0","x":3.8,"y":2.4},{"sigma":"sigma=0","x":4.5,"y":3.1},{"sigma":"sigma=0","x":5.2,"y":3.5},{"sigma":"sigma=0","x":5.7,"y":3.6},{"sigma":"sigma=0","x":6.5,"y":2.5},{"sigma":"sigma=0","x":7.3,"y":1.6},{"sigma":"sigma=0","x":8.1,"y":1.25},{"sigma":"sigma=0","x":9,"y":2.5},{"sigma":"sigma=0","x":10.6,"y":3.6},{"sigma":"sigma=0","x":12,"y":2.3},
{"sigma":"sigma=0","x":13.6,"y":1.7},{"sigma":"sigma=0","x":15.5,"y":3.5},{"sigma":"sigma=0","x":17.5,"y":1.8},{"sigma":"sigma=0","x":19.5,"y":3.6},{"sigma":"sigma=0","x":21.5,"y":2},{"sigma":"sigma=0","x":23.5,"y":3.5},{"sigma":"sigma=0","x":25.5,"y":2.1},{"sigma":"sigma=0","x":28,"y":3.6},{"sigma":"sigma=0","x":30,"y":2.2},{"sigma":"sigma=0","x":33,"y":3.5},{"sigma":"sigma=0","x":36,"y":2.0},{"sigma":"sigma=0","x":39,"y":3.8},{"sigma":"sigma=0","x":42,"y":2.3},{"sigma":"sigma=0","x":45,"y":4},{"sigma":"sigma=0","x":48,"y":1.5},{"sigma":"sigma=0","x":50,"y":4.5},{"sigma":"sigma=0","x":53,"y":0.42},{"sigma":"sigma=0","x":55,"y":5},{"sigma":"sigma=0","x":57,"y":8},{"sigma":"sigma=0","x":59,"y":5},{"sigma":"sigma=0","x":61,"y":12},{"sigma":"sigma=0","x":64,"y":8},{"sigma":"sigma=0","x":67,"y":30},{"sigma":"sigma=0","x":70,"y":20},{"sigma":"sigma=0","x":74,"y":60},{"sigma":"sigma=0","x":78,"y":40},{"sigma":"sigma=0","x":81,"y":100},{"sigma":"sigma=0","x":85,"y":200},{"sigma":"sigma=0","x":90,"y":150},{"sigma":"sigma=0","x":95,"y":500},{"sigma":"sigma=0","x":100,"y":400},{"sigma":"sigma=0","x":104,"y":1100},{"sigma":"sigma=0","x":108,"y":300},{"sigma":"sigma=0","x":112,"y":800},{"sigma":"sigma=0","x":116,"y":150},{"sigma":"sigma=0","x":120,"y":600},{"sigma":"sigma=0","x":125,"y":100},{"sigma":"sigma=0","x":130,"y":700},{"sigma":"sigma=0","x":135,"y":200},{"sigma":"sigma=0","x":140,"y":500},{"sigma":"sigma=0","x":145,"y":18},{"sigma":"sigma=0","x":150,"y":300},{"sigma":"sigma=0","x":160,"y":1000},{"sigma":"sigma=0","x":170,"y":150},{"sigma":"sigma=0","x":180,"y":600},{"sigma":"sigma=0","x":200,"y":300},{"sigma":"sigma=0","x":220,"y":800},{"sigma":"sigma=0","x":240,"y":200},{"sigma":"sigma=0","x":270,"y":500},{"sigma":"sigma=0","x":300,"y":300},
{"sigma":"sigma=0.5","x":0.2,"y":3.4},{"sigma":"sigma=0.5","x":0.3,"y":3.4},{"sigma":"sigma=0.5","x":0.5,"y":3.3},{"sigma":"sigma=0.5","x":0.7,"y":3.2},{"sigma":"sigma=0.5","x":1,"y":2.9},{"sigma":"sigma=0.5","x":1.4,"y":2.2},{"sigma":"sigma=0.5","x":1.9,"y":1.6},{"sigma":"sigma=0.5","x":2.4,"y":1.25},{"sigma":"sigma=0.5","x":2.7,"y":1.2},{"sigma":"sigma=0.5","x":3.2,"y":1.6},{"sigma":"sigma=0.5","x":3.8,"y":2.4},{"sigma":"sigma=0.5","x":4.5,"y":3.1},{"sigma":"sigma=0.5","x":5.2,"y":3.5},{"sigma":"sigma=0.5","x":5.7,"y":3.6},{"sigma":"sigma=0.5","x":6.5,"y":2.5},{"sigma":"sigma=0.5","x":7.3,"y":1.6},{"sigma":"sigma=0.5","x":8.1,"y":1.1},{"sigma":"sigma=0.5","x":9,"y":2.5},{"sigma":"sigma=0.5","x":10.6,"y":3.6},{"sigma":"sigma=0.5","x":12,"y":2.3},
{"sigma":"sigma=0.5","x":13.6,"y":0.9},{"sigma":"sigma=0.5","x":15.5,"y":3.4},{"sigma":"sigma=0.5","x":17.5,"y":1.0},{"sigma":"sigma=0.5","x":19,"y":0.4},{"sigma":"sigma=0.5","x":21,"y":3.3},{"sigma":"sigma=0.5","x":23,"y":0.8},{"sigma":"sigma=0.5","x":25,"y":3.4},{"sigma":"sigma=0.5","x":27,"y":0.6},{"sigma":"sigma=0.5","x":30,"y":3.5},{"sigma":"sigma=0.5","x":33,"y":0.7},{"sigma":"sigma=0.5","x":36,"y":3.5},{"sigma":"sigma=0.5","x":39,"y":0.6},{"sigma":"sigma=0.5","x":42,"y":3.3},{"sigma":"sigma=0.5","x":45,"y":0.8},{"sigma":"sigma=0.5","x":48,"y":3.0},{"sigma":"sigma=0.5","x":51,"y":0.25},{"sigma":"sigma=0.5","x":54,"y":2.5},{"sigma":"sigma=0.5","x":57,"y":0.12},{"sigma":"sigma=0.5","x":59,"y":2.0},{"sigma":"sigma=0.5","x":61,"y":0.2},{"sigma":"sigma=0.5","x":64,"y":2.5},{"sigma":"sigma=0.5","x":67,"y":0.5},{"sigma":"sigma=0.5","x":70,"y":2.7},{"sigma":"sigma=0.5","x":73,"y":0.6},{"sigma":"sigma=0.5","x":77,"y":3.0},{"sigma":"sigma=0.5","x":80,"y":0.9},{"sigma":"sigma=0.5","x":83,"y":2.5},{"sigma":"sigma=0.5","x":86,"y":3},{"sigma":"sigma=0.5","x":90,"y":10},{"sigma":"sigma=0.5","x":95,"y":50},{"sigma":"sigma=0.5","x":100,"y":150},{"sigma":"sigma=0.5","x":105,"y":400},{"sigma":"sigma=0.5","x":110,"y":1000},{"sigma":"sigma=0.5","x":115,"y":2000},{"sigma":"sigma=0.5","x":119,"y":3500},{"sigma":"sigma=0.5","x":123,"y":4000},{"sigma":"sigma=0.5","x":128,"y":800},{"sigma":"sigma=0.5","x":133,"y":3000},{"sigma":"sigma=0.5","x":140,"y":300},{"sigma":"sigma=0.5","x":150,"y":2500},{"sigma":"sigma=0.5","x":160,"y":200},{"sigma":"sigma=0.5","x":170,"y":1500},{"sigma":"sigma=0.5","x":180,"y":500},{"sigma":"sigma=0.5","x":200,"y":3000},{"sigma":"sigma=0.5","x":215,"y":18},{"sigma":"sigma=0.5","x":230,"y":1000},{"sigma":"sigma=0.5","x":250,"y":2000},{"sigma":"sigma=0.5","x":270,"y":400},{"sigma":"sigma=0.5","x":300,"y":1500},
{"sigma":"sigma=1.0","x":0.2,"y":3.4},{"sigma":"sigma=1.0","x":0.3,"y":3.4},{"sigma":"sigma=1.0","x":0.5,"y":3.3},{"sigma":"sigma=1.0","x":0.7,"y":3.2},{"sigma":"sigma=1.0","x":1,"y":2.9},{"sigma":"sigma=1.0","x":1.4,"y":2.2},{"sigma":"sigma=1.0","x":1.9,"y":1.6},{"sigma":"sigma=1.0","x":2.4,"y":1.25},{"sigma":"sigma=1.0","x":2.7,"y":1.2},{"sigma":"sigma=1.0","x":3.2,"y":1.6},{"sigma":"sigma=1.0","x":3.8,"y":2.4},{"sigma":"sigma=1.0","x":4.5,"y":3.1},{"sigma":"sigma=1.0","x":5.2,"y":3.5},{"sigma":"sigma=1.0","x":5.7,"y":3.6},{"sigma":"sigma=1.0","x":6.5,"y":2.5},{"sigma":"sigma=1.0","x":7.3,"y":1.5},{"sigma":"sigma=1.0","x":8.1,"y":1.0},{"sigma":"sigma=1.0","x":9,"y":2.5},{"sigma":"sigma=1.0","x":10.6,"y":3.6},{"sigma":"sigma=1.0","x":12,"y":2.3},
{"sigma":"sigma=1.0","x":13.6,"y":1.2},{"sigma":"sigma=1.0","x":15.5,"y":3.5},{"sigma":"sigma=1.0","x":17.5,"y":1.0},{"sigma":"sigma=1.0","x":18.8,"y":0.36},{"sigma":"sigma=1.0","x":21,"y":3.4},{"sigma":"sigma=1.0","x":23,"y":0.7},{"sigma":"sigma=1.0","x":25,"y":3.2},{"sigma":"sigma=1.0","x":27,"y":0.5},{"sigma":"sigma=1.0","x":30,"y":3.4},{"sigma":"sigma=1.0","x":33,"y":0.6},{"sigma":"sigma=1.0","x":36,"y":3.6},{"sigma":"sigma=1.0","x":39,"y":0.5},{"sigma":"sigma=1.0","x":42,"y":3.3},{"sigma":"sigma=1.0","x":45,"y":0.7},{"sigma":"sigma=1.0","x":48,"y":3.2},{"sigma":"sigma=1.0","x":51,"y":0.8},{"sigma":"sigma=1.0","x":54,"y":2.5},{"sigma":"sigma=1.0","x":57,"y":0.5},{"sigma":"sigma=1.0","x":60,"y":3},{"sigma":"sigma=1.0","x":64,"y":0.8},{"sigma":"sigma=1.0","x":68,"y":3.2},{"sigma":"sigma=1.0","x":72,"y":0.6},{"sigma":"sigma=1.0","x":76,"y":3.0},{"sigma":"sigma=1.0","x":80,"y":0.9},{"sigma":"sigma=1.0","x":84,"y":2.8},{"sigma":"sigma=1.0","x":88,"y":0.6},{"sigma":"sigma=1.0","x":92,"y":3},{"sigma":"sigma=1.0","x":96,"y":0.35},{"sigma":"sigma=1.0","x":100,"y":3.2},{"sigma":"sigma=1.0","x":104,"y":4},{"sigma":"sigma=1.0","x":108,"y":30},{"sigma":"sigma=1.0","x":112,"y":100},{"sigma":"sigma=1.0","x":116,"y":300},{"sigma":"sigma=1.0","x":120,"y":600},{"sigma":"sigma=1.0","x":125,"y":1000},{"sigma":"sigma=1.0","x":130,"y":2000},{"sigma":"sigma=1.0","x":140,"y":1200},{"sigma":"sigma=1.0","x":150,"y":3000},{"sigma":"sigma=1.0","x":160,"y":1500},{"sigma":"sigma=1.0","x":168,"y":5400},{"sigma":"sigma=1.0","x":175,"y":2000},{"sigma":"sigma=1.0","x":185,"y":4500},{"sigma":"sigma=1.0","x":195,"y":1500},{"sigma":"sigma=1.0","x":210,"y":4000},{"sigma":"sigma=1.0","x":230,"y":1000},{"sigma":"sigma=1.0","x":250,"y":5000},{"sigma":"sigma=1.0","x":270,"y":2000},{"sigma":"sigma=1.0","x":300,"y":3000}
]
},
"spacing":3,
"vconcat":[
{"spacing":42,"hconcat":[
{"width":350,"height":285,"title":"BT: (1,1)","data":{"name":"bt11"},"mark":{"type":"line","clip":true},
"encoding":{
"x":{"field":"x","type":"quantitative","scale":{"type":"log","domain":[0.2,300],"nice":false},"axis":{"title":null,"values":[0.2,0.3,0.4,0.5,0.6,0.7,0.8,0.9,1,2,3,4,5,6,7,8,9,10,20,30,40,50,60,70,80,90,100,200,300],"labelExpr":"datum.value == 1 ? '10⁰' : datum.value == 10 ? '10¹' : datum.value == 100 ? '10²' : ''"}},
"y":{"field":"y","type":"quantitative","scale":{"type":"log","domain":[0.036,190000],"nice":false},"axis":{"title":null,"values":[0.04,0.05,0.06,0.07,0.08,0.09,0.1,0.2,0.3,0.4,0.5,0.6,0.7,0.8,0.9,1,2,3,4,5,6,7,8,9,10,20,30,40,50,60,70,80,90,100,200,300,400,500,600,700,800,900,1000,2000,3000,4000,5000,6000,7000,8000,9000,10000,20000,30000,40000,50000,60000,70000,80000,90000,100000],"labelExpr":"datum.value == 1 ? '10⁰' : datum.value == 10 ? '10¹' : datum.value == 100 ? '10²' : datum.value == 1000 ? '10³' : datum.value == 10000 ? '10⁴' : datum.value == 100000 ? '10⁵' : ''"}},
"color":{"field":"sigma","type":"nominal","title":null,"scale":{"domain":["sigma=0","sigma=0.5","sigma=1.0"],"range":["#3b5ba9","#e8382e","#4db552"]}},
"strokeDash":{"field":"sigma","type":"nominal","title":null,"scale":{"domain":["sigma=0","sigma=0.5","sigma=1.0"],"range":[[1,0],[7,4],[6,3,1.5,3]]}}
}},
{"width":350,"height":285,"title":"BT: (2,2)","data":{"name":"bt22"},"mark":{"type":"line","clip":true},
"encoding":{
"x":{"field":"x","type":"quantitative","scale":{"type":"log","domain":[0.2,300],"nice":false},"axis":{"title":null,"values":[0.2,0.3,0.4,0.5,0.6,0.7,0.8,0.9,1,2,3,4,5,6,7,8,9,10,20,30,40,50,60,70,80,90,100,200,300],"labelExpr":"datum.value == 1 ? '10⁰' : datum.value == 10 ? '10¹' : datum.value == 100 ? '10²' : ''"}},
"y":{"field":"y","type":"quantitative","scale":{"type":"log","domain":[0.09,190000],"nice":false},"axis":{"title":null,"values":[0.1,0.2,0.3,0.4,0.5,0.6,0.7,0.8,0.9,1,2,3,4,5,6,7,8,9,10,20,30,40,50,60,70,80,90,100,200,300,400,500,600,700,800,900,1000,2000,3000,4000,5000,6000,7000,8000,9000,10000,20000,30000,40000,50000,60000,70000,80000,90000,100000],"labelExpr":"datum.value == 1 ? '10⁰' : datum.value == 10 ? '10¹' : datum.value == 100 ? '10²' : datum.value == 1000 ? '10³' : datum.value == 10000 ? '10⁴' : datum.value == 100000 ? '10⁵' : ''"}},
"color":{"field":"sigma","type":"nominal","title":null,"scale":{"domain":["sigma=0","sigma=0.5","sigma=1.0"],"range":["#3b5ba9","#e8382e","#4db552"]}},
"strokeDash":{"field":"sigma","type":"nominal","title":null,"scale":{"domain":["sigma=0","sigma=0.5","sigma=1.0"],"range":[[1,0],[7,4],[6,3,1.5,3]]}}
}}
],"resolve":{"legend":{"color":"independent","strokeDash":"independent"}}},
{"spacing":46,"hconcat":[
{"width":350,"height":285,"title":"BC: (1,1)","data":{"name":"bc11"},"mark":{"type":"line","clip":true},
"encoding":{
"x":{"field":"x","type":"quantitative","scale":{"type":"log","domain":[0.2,300],"nice":false},"axis":{"title":null,"values":[0.2,0.3,0.4,0.5,0.6,0.7,0.8,0.9,1,2,3,4,5,6,7,8,9,10,20,30,40,50,60,70,80,90,100,200,300],"labelExpr":"datum.value == 1 ? '10⁰' : datum.value == 10 ? '10¹' : datum.value == 100 ? '10²' : ''"}},
"y":{"field":"y","type":"quantitative","scale":{"type":"log","domain":[0.036,190000],"nice":false},"axis":{"title":null,"values":[0.04,0.05,0.06,0.07,0.08,0.09,0.1,0.2,0.3,0.4,0.5,0.6,0.7,0.8,0.9,1,2,3,4,5,6,7,8,9,10,20,30,40,50,60,70,80,90,100,200,300,400,500,600,700,800,900,1000,2000,3000,4000,5000,6000,7000,8000,9000,10000,20000,30000,40000,50000,60000,70000,80000,90000,100000],"labelExpr":"datum.value == 1 ? '10⁰' : datum.value == 10 ? '10¹' : datum.value == 100 ? '10²' : datum.value == 1000 ? '10³' : datum.value == 10000 ? '10⁴' : datum.value == 100000 ? '10⁵' : ''"}},
"color":{"field":"sigma","type":"nominal","title":null,"scale":{"domain":["sigma=0","sigma=0.5","sigma=1.0"],"range":["#3b5ba9","#e8382e","#4db552"]}},
"strokeDash":{"field":"sigma","type":"nominal","title":null,"scale":{"domain":["sigma=0","sigma=0.5","sigma=1.0"],"range":[[1,0],[7,4],[6,3,1.5,3]]}}
}},
{"width":350,"height":285,"title":"BC: (2,2)","data":{"name":"bc22"},"mark":{"type":"line","clip":true},
"encoding":{
"x":{"field":"x","type":"quantitative","scale":{"type":"log","domain":[0.2,300],"nice":false},"axis":{"title":null,"values":[0.2,0.3,0.4,0.5,0.6,0.7,0.8,0.9,1,2,3,4,5,6,7,8,9,10,20,30,40,50,60,70,80,90,100,200,300],"labelExpr":"datum.value == 1 ? '10⁰' : datum.value == 10 ? '10¹' : datum.value == 100 ? '10²' : ''"}},
"y":{"field":"y","type":"quantitative","scale":{"type":"log","domain":[0.09,190000],"nice":false},"axis":{"title":null,"values":[0.1,0.2,0.3,0.4,0.5,0.6,0.7,0.8,0.9,1,2,3,4,5,6,7,8,9,10,20,30,40,50,60,70,80,90,100,200,300,400,500,600,700,800,900,1000,2000,3000,4000,5000,6000,7000,8000,9000,10000,20000,30000,40000,50000,60000,70000,80000,90000,100000],"labelExpr":"datum.value == 1 ? '10⁰' : datum.value == 10 ? '10¹' : datum.value == 100 ? '10²' : datum.value == 1000 ? '10³' : datum.value == 10000 ? '10⁴' : datum.value == 100000 ? '10⁵' : ''"}},
"color":{"field":"sigma","type":"nominal","title":null,"scale":{"domain":["sigma=0","sigma=0.5","sigma=1.0"],"range":["#3b5ba9","#e8382e","#4db552"]}},
"strokeDash":{"field":"sigma","type":"nominal","title":null,"scale":{"domain":["sigma=0","sigma=0.5","sigma=1.0"],"range":[[1,0],[7,4],[6,3,1.5,3]]}}
}}
],"resolve":{"legend":{"color":"independent","strokeDash":"independent"}}}
],
"resolve":{"legend":{"color":"independent","strokeDash":"independent"}},
"config":{
"font":"Liberation Sans",
"view":{"stroke":"#888","strokeDash":[3,3],"strokeWidth":1},
"title":{"fontSize":26,"fontWeight":"normal","color":"#222","offset":12,"font":"Liberation Sans"},
"axis":{"domainColor":"#777","domainWidth":1.5,"tickColor":"#777","tickSize":5,"labelFontSize":19,"labelColor":"#555","labelPadding":5,"gridColor":"#666","gridDash":[3,3],"gridOpacity":0.6,"gridWidth":0.8,"labelOverlap":false,"labelFlush":false},
"legend":{"orient":"top-left","offset":5,"strokeColor":"#222","fillColor":"white","padding":4,"labelFontSize":17,"labelFontWeight":"bold","labelColor":"#222","labelFont":"Liberation Sans","symbolType":"M-1,0H3","symbolSize":300,"symbolStrokeWidth":2.5,"rowPadding":4,"labelOffset":20,"cornerRadius":0},
"line":{"strokeWidth":2.5}
}
}
